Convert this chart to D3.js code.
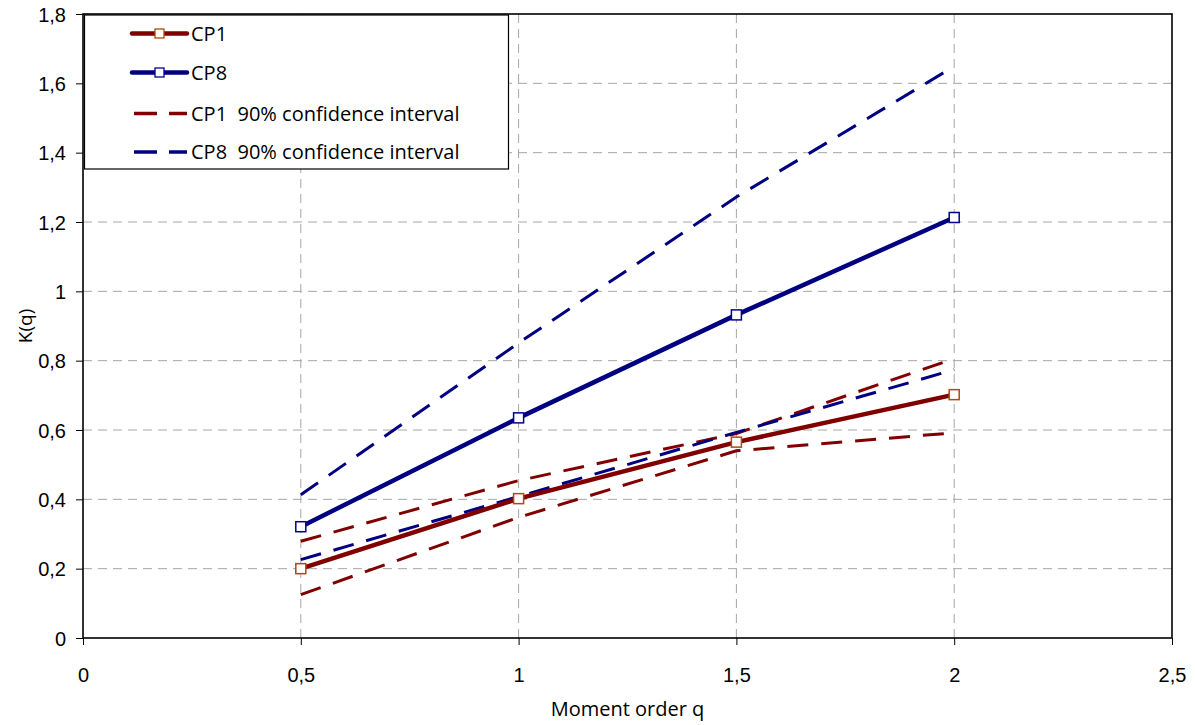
<!DOCTYPE html>
<html>
<head>
<meta charset="utf-8">
<script src="https://cdn.jsdelivr.net/npm/d3@7"></script>
<style>
  html, body { margin: 0; padding: 0; background: #fff; }
  svg { display: block; font-family: "Open Sans", "Noto Sans", sans-serif; }
</style>
</head>
<body>
<svg id="chart" width="1195" height="725"></svg>
<script>
// ---- Data ----
const qValues = [0.5, 1, 1.5, 2];
const cp1 = [0.200, 0.402, 0.565, 0.702];
const cp8 = [0.321, 0.635, 0.932, 1.213];
const cp1Upper = [0.279, 0.454, 0.590, 0.806];
const cp1Lower = [0.125, 0.348, 0.540, 0.592];
const cp8Upper = [0.413, 0.851, 1.272, 1.649];
const cp8Lower = [0.226, 0.408, 0.593, 0.774];
const xTicks = [0, 0.5, 1, 1.5, 2, 2.5];
const yTicks = [0, 0.2, 0.4, 0.6, 0.8, 1, 1.2, 1.4, 1.6, 1.8];
const legendLabels = ["CP1", "CP8", "CP1  90% confidence interval", "CP8  90% confidence interval"];
const xTitle = "Moment order q";
const yTitle = "K(q)";

// ---- Layout ----
const svg = d3.select("#chart");
const L = 83, R = 1172, T = 14, B = 638;
const x = d3.scaleLinear().domain([0, 2.5]).range([L, R]);
const y = d3.scaleLinear().domain([0, 1.8]).range([B, T]);
const fmt = d => String(d).replace(".", ",");

const red = "#800000", navy = "#000080";
const redMarker = "#B5470F", navyMarker = "#00008F";

// Gridlines
const grid = svg.append("g");
grid.selectAll("line.h").data(yTicks.filter(d => d > 0 && d < 1.8)).join("line")
  .attr("x1", L).attr("x2", R).attr("y1", d => y(d)).attr("y2", d => y(d))
  .attr("stroke", "#a6a6a6").attr("stroke-width", 1).attr("stroke-dasharray", "9,6");
grid.selectAll("line.v").data(xTicks.filter(d => d > 0 && d < 2.5)).join("line")
  .attr("y1", T).attr("y2", B).attr("x1", d => x(d)).attr("x2", d => x(d))
  .attr("stroke", "#a6a6a6").attr("stroke-width", 1).attr("stroke-dasharray", "9,6");

// Axes
const xAxis = d3.axisBottom(x).tickValues(xTicks).tickFormat(fmt).tickSize(7).tickSizeOuter(0);
const yAxis = d3.axisLeft(y).tickValues(yTicks).tickFormat(fmt).tickSize(7).tickSizeOuter(0);
const gx = svg.append("g").attr("transform", `translate(0,${B})`).call(xAxis);
const gy = svg.append("g").attr("transform", `translate(${L},0)`).call(yAxis);
[gx, gy].forEach(g => {
  g.select(".domain").remove();
  g.selectAll(".tick line").attr("stroke", "#000").attr("stroke-width", 1);
  g.selectAll(".tick text").attr("fill", "#000").style("font-size", "20px").style("font-family", "inherit");
});
gx.selectAll(".tick text").attr("dy", 0).attr("y", 44);
gy.selectAll(".tick text").attr("x", -17).attr("dy", "0.35em");

// Plot border
svg.append("rect").attr("x", L).attr("y", T).attr("width", R - L).attr("height", B - T)
  .attr("fill", "none").attr("stroke", "#000").attr("stroke-width", 1.6);

// Lines
const line = d3.line().x((d, i) => x(qValues[i])).y(d => y(d));
const dashed = [
  { data: cp1Upper, color: red },
  { data: cp1Lower, color: red },
  { data: cp8Upper, color: navy },
  { data: cp8Lower, color: navy }
];
svg.append("g").selectAll("path").data(dashed).join("path")
  .attr("d", d => line(d.data)).attr("fill", "none")
  .attr("stroke", d => d.color).attr("stroke-width", 3).attr("stroke-dasharray", "21,13");

const solid = [
  { data: cp1, color: red, marker: redMarker },
  { data: cp8, color: navy, marker: navyMarker }
];
solid.forEach(s => {
  svg.append("path").attr("d", line(s.data)).attr("fill", "none")
    .attr("stroke", s.color).attr("stroke-width", 4.5).attr("stroke-linejoin", "round");
});
solid.forEach(s => {
  svg.append("g").selectAll("rect").data(s.data).join("rect")
    .attr("x", (d, i) => x(qValues[i]) - 5).attr("y", d => y(d) - 5)
    .attr("width", 10).attr("height", 10)
    .attr("fill", "#fff").attr("stroke", s.marker).attr("stroke-width", 1.5);
});

// Legend
const lg = svg.append("g");
lg.append("rect").attr("x", 84.5).attr("y", 15).attr("width", 424).attr("height", 154)
  .attr("fill", "#fff").attr("stroke", "#000").attr("stroke-width", 1.2);
const rowsY = [33.5, 72.5, 113.5, 152];
const legendItems = [
  { color: red, marker: redMarker, dash: null },
  { color: navy, marker: navyMarker, dash: null },
  { color: red, dash: "23,12" },
  { color: navy, dash: "23,12" }
];
legendItems.forEach((it, i) => {
  const yy = rowsY[i];
  if (it.dash) {
    lg.append("line").attr("x1", 134).attr("x2", 187).attr("y1", yy).attr("y2", yy)
      .attr("stroke", it.color).attr("stroke-width", 3.5).attr("stroke-dasharray", it.dash);
  } else {
    lg.append("line").attr("x1", 132).attr("x2", 187).attr("y1", yy).attr("y2", yy)
      .attr("stroke", it.color).attr("stroke-width", 4.5).attr("stroke-linecap", "round");
    lg.append("rect").attr("x", 155).attr("y", yy - 4.5).attr("width", 9).attr("height", 9)
      .attr("fill", "#fff").attr("stroke", it.marker).attr("stroke-width", 1.3);
  }
  lg.append("text").attr("x", 191).attr("y", yy).attr("dy", "0.35em")
    .style("font-size", "20px").style("white-space", "pre").attr("fill", "#000").text(legendLabels[i]);
});

// Axis titles
svg.append("text").attr("x", (L + R) / 2).attr("y", 716).attr("text-anchor", "middle")
  .style("font-size", "20px").attr("fill", "#000").text(xTitle);
svg.append("text").attr("transform", `translate(32,${(T + B) / 2}) rotate(-90)`)
  .attr("text-anchor", "middle").style("font-size", "19px").attr("fill", "#000").text(yTitle);
</script>
</body>
</html>
